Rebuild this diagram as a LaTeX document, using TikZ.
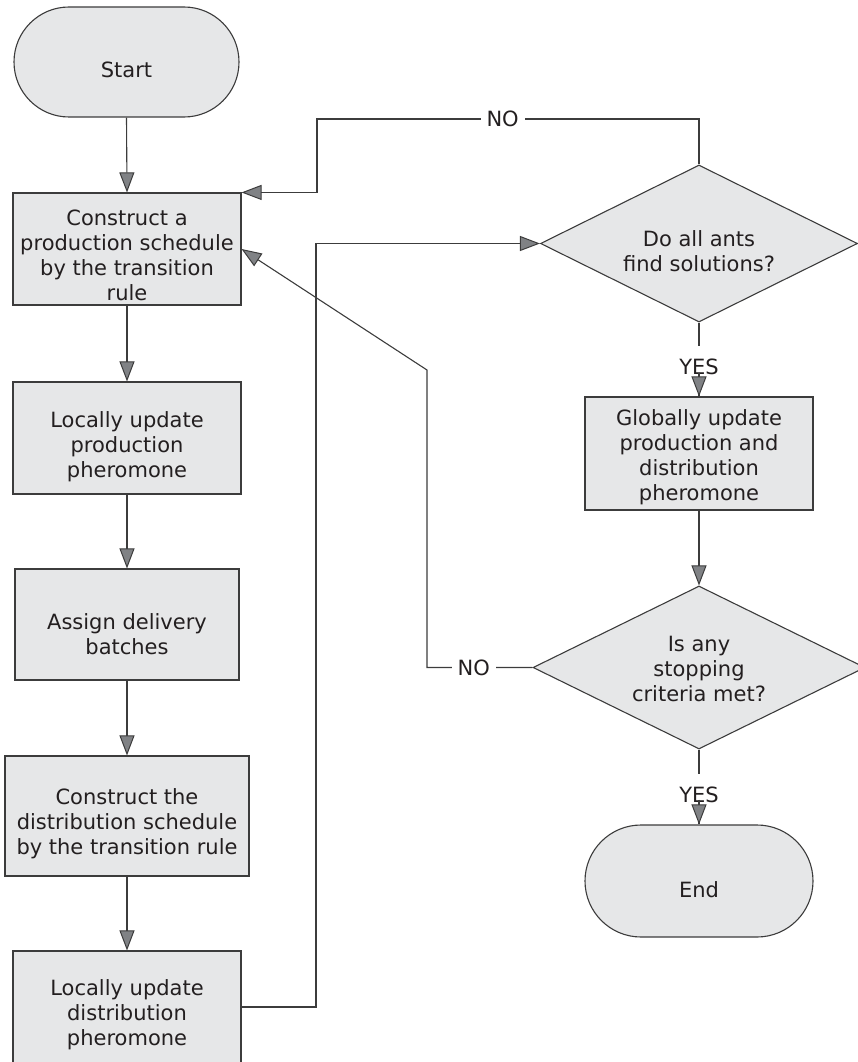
\documentclass[tikz,border=0pt]{standalone}
\usepackage{fontspec}
\setmainfont{DejaVu Sans}
\usetikzlibrary{shapes.geometric,shapes.misc,arrows.meta,calc}
\definecolor{linec}{HTML}{3C3C3C}
\definecolor{boxf}{HTML}{E6E7E8}
\definecolor{arrf}{HTML}{808285}
\definecolor{txtc}{HTML}{231F20}
\newcommand\txtdn[1]{\rule{0pt}{\dimexpr16pt+#1pt*2\relax}}
\begin{document}
\begin{tikzpicture}[x=1pt,y=-1pt,
  base/.style={draw=linec, fill=boxf, line width=1.1pt, text=txtc,
    font=\fontsize{21}{25}\selectfont, align=center, inner sep=0pt},
  proc/.style={base, rectangle},
  term/.style={base, rounded rectangle},
  decis/.style={base, diamond, aspect=2},
  line/.style={draw=linec, line width=1.1pt},
  conn/.style={line, -{Triangle[length=20pt,width=15pt,fill=arrf,line width=1pt]}},
  lbl/.style={fill=white, text=txtc, font=\fontsize{21}{25}\selectfont,
    inner xsep=6pt, inner ysep=13pt}
]
\useasboundingbox (0,0) rectangle (857,1062);

\node[term, minimum width=225pt, minimum height=110pt] (start) at (126.5,62) {\txtdn{8}Start};
\node[proc, minimum width=228pt, minimum height=112pt] (b1) at (127,249)
  {\txtdn{6}Construct a\\production schedule\\by the transition\\rule};
\node[proc, minimum width=228pt, minimum height=112pt] (b2) at (127,438)
  {\txtdn{9}Locally update\\production\\pheromone};
\node[proc, minimum width=224pt, minimum height=111pt] (b3) at (127,624.5)
  {\txtdn{10}Assign delivery\\batches};
\node[proc, minimum width=244pt, minimum height=120pt] (b4) at (127,816)
  {\txtdn{8}Construct the\\distribution schedule\\by the transition rule};
\node[proc, minimum width=228pt, minimum height=112pt] (b5) at (127,1007)
  {\txtdn{8}Locally update\\distribution\\pheromone};

\node[decis, minimum width=317pt, minimum height=157pt] (d1) at (699,243.5)
  {\txtdn{8}Do all ants\\find solutions?};
\node[proc, minimum width=228pt, minimum height=113pt] (b6) at (699,453.5)
  {\txtdn{4}Globally update\\production and\\distribution\\pheromone};
\node[decis, minimum width=332pt, minimum height=163pt] (d2) at (699,667.5)
  {\txtdn{1}Is any\\stopping\\criteria met?};
\node[term, minimum width=228pt, minimum height=112pt] (end) at (699,881) {\txtdn{9}End};

\coordinate (j1) at (316,0);
\coordinate (j2) at (317,119);
\coordinate (j3) at (427,370);

\draw[conn] (start.south) -- (b1.north);
\draw[conn] (b1.south) -- (b2.north);
\draw[conn] (b2.south) -- (b3.north);
\draw[conn] (b3.south) -- (b4.north);
\draw[conn] (b4.south) -- (b5.north);

\draw[conn] (b5.east) -| (j1 |- d1.west) -- (d1.west);
\draw[conn] (d1.north) |- node[lbl, pos=0.757]{NO} (j2) |- (b1.north east);
\draw[conn] (d2.west) -| node[lbl, pos=0.278]{NO} (j3) -- (b1.east);

\draw[line] (d1.south) -- node[lbl, pos=0.605]{YES} (b6.north);
\draw[conn, shorten <=50pt] (d1.south) -- (b6.north);
\draw[conn] (b6.south) -- (d2.north);
\draw[line] (d2.south) -- node[lbl, pos=0.605]{YES} (end.north);
\draw[conn, shorten <=50pt] (d2.south) -- (end.north);
\end{tikzpicture}
\end{document}
